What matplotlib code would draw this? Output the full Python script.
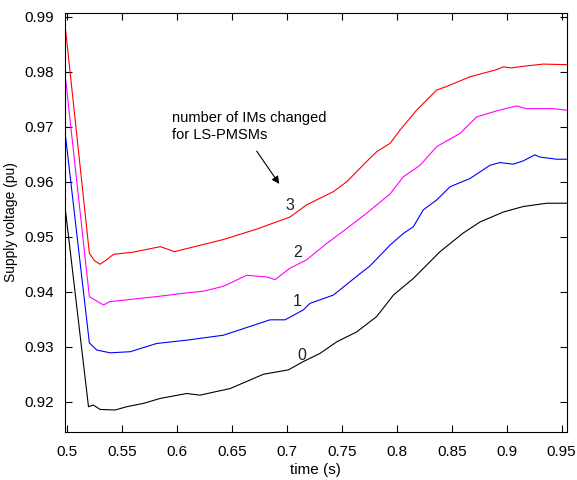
import numpy as np
import matplotlib
matplotlib.use('Agg')
import matplotlib.pyplot as plt

# curve data (time in s, voltage in pu)
t3 = [0.499, 0.5205, 0.525, 0.530, 0.536, 0.5424, 0.560, 0.585, 0.598, 0.612, 0.6424, 0.6727,
      0.703, 0.718, 0.7424, 0.7545, 0.7757, 0.782, 0.794, 0.803, 0.818, 0.8364, 0.845, 0.8667,
      0.891, 0.897, 0.904, 0.915, 0.933, 0.955]
v3 = [0.9874, 0.9470, 0.9457, 0.9450, 0.9458, 0.9468, 0.9472, 0.9482, 0.9473, 0.9480, 0.9495,
      0.9514, 0.9536, 0.9558, 0.9582, 0.9600, 0.9643, 0.9655, 0.9670, 0.9694, 0.9730, 0.9767,
      0.9773, 0.9791, 0.9804, 0.9809, 0.9807, 0.9810, 0.9814, 0.9813]

t2 = [0.499, 0.5205, 0.5333, 0.539, 0.585, 0.609, 0.6242, 0.6424, 0.6636, 0.6818, 0.6894,
      0.703, 0.718, 0.7364, 0.7545, 0.7727, 0.794, 0.806, 0.8212, 0.8364, 0.8576, 0.8727,
      0.891, 0.909, 0.918, 0.9424, 0.955]
v2 = [0.9785, 0.9391, 0.9376, 0.9382, 0.9392, 0.9398, 0.9401, 0.9410, 0.9430, 0.9427, 0.9422,
      0.9443, 0.9458, 0.9488, 0.9515, 0.9543, 0.9578, 0.9609, 0.9630, 0.9664, 0.9688, 0.9718,
      0.9729, 0.9738, 0.9733, 0.9733, 0.9730]

t1 = [0.499, 0.5205, 0.5273, 0.5394, 0.5576, 0.5818, 0.609, 0.6424, 0.6606, 0.6848, 0.6985,
      0.715, 0.7212, 0.7424, 0.7667, 0.7757, 0.794, 0.806, 0.815, 0.8242, 0.8364, 0.8485,
      0.8667, 0.8848, 0.8939, 0.906, 0.915, 0.9257, 0.930, 0.9455, 0.955]
v1 = [0.9680, 0.9307, 0.9294, 0.9289, 0.9291, 0.9306, 0.9312, 0.9321, 0.9333, 0.9349, 0.9349,
      0.9367, 0.9379, 0.9394, 0.9433, 0.9447, 0.9485, 0.9506, 0.9518, 0.9549, 0.9567, 0.9591,
      0.9606, 0.9630, 0.9635, 0.9632, 0.9638, 0.9649, 0.9645, 0.9641, 0.9641]

t0 = [0.499, 0.5197, 0.5242, 0.5303, 0.5439, 0.5545, 0.5697, 0.5848, 0.609, 0.621, 0.6485,
      0.6788, 0.7015, 0.715, 0.7303, 0.7455, 0.7636, 0.7818, 0.797, 0.815, 0.8394, 0.8606,
      0.8758, 0.897, 0.915, 0.9364, 0.955]
v0 = [0.9544, 0.9191, 0.9194, 0.9186, 0.9185, 0.9191, 0.9197, 0.9206, 0.9215, 0.9212, 0.9224,
      0.9250, 0.9258, 0.9273, 0.9288, 0.9309, 0.9327, 0.9355, 0.9394, 0.9424, 0.9473, 0.9507,
      0.9527, 0.9545, 0.9555, 0.9561, 0.9561]

labels = ['3', '2', '1', '0']
label_pos = [(0.7025, 0.9557), (0.7097, 0.9472), (0.7097, 0.9383), (0.714, 0.9285)]
colors = ['#ff0000', '#ff00ff', '#0000ff', '#000000']

plt.rcParams['font.family'] = ['Liberation Sans', 'DejaVu Sans']

fig = plt.figure(figsize=(5.77, 4.8), dpi=100)
ax = fig.add_axes([0.112, 0.1, 0.870, 0.873])

for (t, v), c in zip([(t3, v3), (t2, v2), (t1, v1), (t0, v0)], colors):
    ax.plot(t, v, color=c, linewidth=0.8)

for lab, (x, y) in zip(labels, label_pos):
    ax.text(x, y, lab, fontsize=11.5, color='#222222', ha='center', va='center')

ax.text(0.5957, 0.9700, 'number of IMs changed\nfor LS-PMSMs', fontsize=10.5,
        ha='left', va='center', linespacing=1.25)
ax.annotate('', xy=(0.6946, 0.9592), xytext=(0.6712, 0.9660),
            arrowprops=dict(arrowstyle='-|>', color='black', lw=0.8,
                            mutation_scale=11))

ax.set_xlim(0.498, 0.9545)
ax.set_ylim(0.9145, 0.9907)
ax.set_xticks(np.arange(0.5, 0.951, 0.05))
ax.set_xticklabels(['0.5', '0.55', '0.6', '0.65', '0.7', '0.75', '0.8', '0.85', '0.9', '0.95'])
ax.set_yticks(np.arange(0.92, 0.9905, 0.01))
ax.set_yticklabels(['0.92', '0.93', '0.94', '0.95', '0.96', '0.97', '0.98', '0.99'])
ax.tick_params(direction='in', top=True, right=True, length=5, labelsize=11)
ax.tick_params(axis='x', pad=9)
ax.tick_params(axis='y', pad=8)
for s in ax.spines.values():
    s.set_linewidth(0.8)

ax.set_xlabel('time (s)', fontsize=11, labelpad=3)
ax.set_ylabel('Supply voltage (pu)', fontsize=10, labelpad=4)

fig.savefig('out.png', dpi=100)
